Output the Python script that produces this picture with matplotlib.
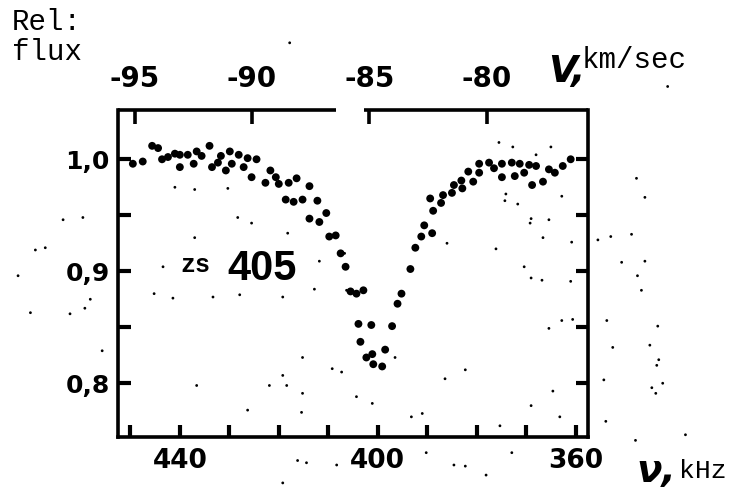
import matplotlib
matplotlib.use("Agg")
import matplotlib.pyplot as plt
import numpy as np

# line profile: frequency offset (kHz) and relative flux
freq = [449.5, 447.5, 445.6, 444.4, 443.6, 442.4, 441.0, 440.0, 440.0, 438.4,
        437.2, 436.6, 435.6, 434.0, 433.5, 432.3, 431.7, 430.7, 429.9, 429.5,
        428.1, 427.1, 426.3, 425.5, 424.5, 422.7, 421.7, 420.6, 420.0, 418.0,
        416.4, 413.8, 418.6, 417.0, 415.2, 412.2, 413.8, 411.8, 410.4, 409.8,
        408.5, 407.5, 406.5, 405.5, 404.3, 402.9, 403.9, 401.3, 403.5, 402.3,
        401.1, 400.9, 399.1, 398.5, 397.1, 396.0, 395.2, 393.4, 392.4, 391.2,
        390.6, 389.0, 388.8, 389.4, 387.2, 386.8, 385.0, 384.6, 383.1, 382.9,
        381.7, 380.7, 379.5, 379.5, 377.5, 376.5, 374.9, 374.9, 372.9, 372.3,
        371.3, 370.4, 369.4, 368.0, 368.8, 366.6, 365.4, 364.2, 362.6, 361.0]
flux = [0.996, 0.998, 1.012, 1.010, 1.000, 1.002, 1.005, 1.004, 0.993, 1.004,
        0.996, 1.007, 1.003, 1.012, 0.993, 0.997, 1.003, 0.990, 1.007, 0.996,
        1.004, 0.993, 1.001, 0.984, 1.000, 0.979, 0.990, 0.984, 0.978, 0.979,
        0.983, 0.976, 0.964, 0.962, 0.964, 0.963, 0.947, 0.944, 0.952, 0.931,
        0.932, 0.916, 0.904, 0.882, 0.880, 0.883, 0.853, 0.852, 0.837, 0.823,
        0.826, 0.817, 0.815, 0.830, 0.851, 0.871, 0.880, 0.902, 0.921, 0.931,
        0.941, 0.934, 0.954, 0.965, 0.961, 0.968, 0.970, 0.977, 0.981, 0.974,
        0.989, 0.980, 0.988, 0.996, 0.997, 0.992, 0.996, 0.984, 0.997, 0.985,
        0.996, 0.988, 0.995, 0.994, 0.977, 0.980, 0.991, 0.988, 0.994, 1.000]

# small specks scattered over the sheet
speck_f = [441.0, 437.0, 430.3, 428.3, 425.5, 437.0, 418.2, 443.4, 445.2, 441.4,
           433.3, 427.9, 419.2, 411.8, 406.7, 406.3, 412.8, 404.1, 403.7, 415.2,
           409.2, 407.3, 419.2, 421.9, 418.4, 415.2, 404.3, 426.3, 415.4, 436.6,
           401.1, 467.2, 469.2, 463.6, 459.6, 470.2, 462.2, 459.2, 458.1, 455.7,
           472.7, 416.2, 414.4, 408.3, 419.2, 386.0, 376.1, 370.4, 369.0, 366.8,
           360.8, 361.0, 362.8, 360.6, 365.4, 382.3, 386.4, 364.6, 369.0, 363.2,
           393.2, 391.0, 375.3, 396.5, 355.5, 352.9, 348.7, 350.7, 346.0, 347.5,
           346.7, 353.7, 343.4, 345.0, 352.5, 343.2, 343.6, 354.3, 344.6, 342.4,
           343.8, 353.9, 347.9, 337.8, 384.6, 382.3, 378.1, 372.9, 390.2, 341.4,
           347.7, 346.0, 417.8, 375.5, 372.7, 368.0, 365.0, 374.1, 374.3, 371.7,
           362.8, 369.0, 369.2, 365.4, 366.6]
speck_v = [0.975, 0.973, 0.974, 0.948, 0.943, 0.930, 0.934, 0.904, 0.880, 0.876,
           0.877, 0.879, 0.877, 0.909, 0.916, 0.883, 0.884, 0.852, 0.838, 0.823,
           0.813, 0.810, 0.807, 0.798, 0.798, 0.791, 0.788, 0.776, 0.774, 0.798,
           0.782, 0.921, 0.919, 0.946, 0.948, 0.863, 0.862, 0.867, 0.875, 0.829,
           0.896, 0.731, 0.729, 0.727, 0.711, 0.925, 0.920, 0.904, 0.894, 0.892,
           0.926, 0.891, 0.856, 0.857, 0.849, 0.812, 0.804, 0.793, 0.780, 0.770,
           0.770, 0.773, 0.762, 0.823, 0.928, 0.931, 0.933, 0.908, 0.909, 0.896,
           0.883, 0.856, 0.851, 0.834, 0.832, 0.821, 0.816, 0.803, 0.796, 0.800,
           0.791, 0.766, 0.749, 0.754, 0.727, 0.726, 0.718, 0.738, 0.738, 1.065,
           0.983, 0.966, 1.104, 1.015, 1.011, 1.004, 1.011, 0.969, 0.963, 0.960,
           0.967, 0.947, 0.943, 0.946, 0.930]

freq_ticks = [440, 400, 360]
freq_labels = ["440", "400", "360"]
flux_ticks = [0.8, 0.9, 1.0]
flux_labels = ["0,8", "0,9", "1,0"]
vel_ticks = [-95, -90, -85, -80]
vel_labels = ["-95", "-90", "-85", "-80"]


def f2v(f):
    return -93.08 + 0.211 * (440.0 - np.asarray(f, dtype=float))


def v2f(v):
    return 440.0 - (np.asarray(v, dtype=float) + 93.08) / 0.211


fig = plt.figure(figsize=(7.42, 4.90), dpi=100)
ax = fig.add_axes([118 / 742, 1 - 437 / 490, 470 / 742, 327 / 490])
ax.set_xlim(452.5, 357.5)
ax.set_ylim(0.752, 1.044)

ax.scatter(freq, flux, s=32, color="black", edgecolors="none", zorder=3)
ax.scatter(speck_f, speck_v, s=4, color="black", edgecolors="none",
           clip_on=False, zorder=2)

for side in ["left", "right", "bottom"]:
    ax.spines[side].set_linewidth(2.6)
ax.spines["top"].set_visible(False)
# top frame drawn in two pieces, broken just before the -85 mark
ax.plot([0, 0.464], [1, 1], transform=ax.transAxes, color="black", lw=2.6,
        clip_on=False, solid_capstyle="butt")
ax.plot([0.523, 1], [1, 1], transform=ax.transAxes, color="black", lw=2.6,
        clip_on=False, solid_capstyle="butt")

ax.set_xticks(freq_ticks)
ax.set_xticklabels(freq_labels, fontsize=19, fontweight="bold")
ax.set_xticks(np.arange(450, 355, -10), minor=True)
ax.set_yticks(flux_ticks)
ax.set_yticklabels(flux_labels, fontsize=18, fontweight="bold")
ax.set_yticks([0.85, 0.95], minor=True)
ax.tick_params(axis="both", which="both", direction="in", width=3, length=9,
               right=True, pad=6)
ax.tick_params(axis="x", which="both", pad=8)

secax = ax.secondary_xaxis("top", functions=(f2v, v2f))
secax.set_xticks(vel_ticks)
secax.set_xticklabels(vel_labels, fontsize=20, fontweight="bold")
secax.tick_params(direction="in", width=2.6, length=10, pad=12)
secax.spines["top"].set_visible(False)

fig.text(12 / 742, 1 - 8 / 490, "Rel:\nflux", family="Liberation Mono",
         fontsize=21, va="top", ha="left", linespacing=1.1)
fig.text(548 / 742, 1 - 82 / 490, "V,", fontsize=27, fontweight="bold",
         style="italic", va="baseline", ha="left")
fig.text(582 / 742, 1 - 68 / 490, "km/sec", family="Liberation Mono",
         fontsize=21, va="baseline", ha="left")
fig.text(636 / 742, 1 - 482 / 490, "ν,", fontsize=27, fontweight="bold",
         style="italic", va="baseline", ha="left")
fig.text(679 / 742, 1 - 478 / 490, "kHz", family="Liberation Mono",
         fontsize=19, va="baseline", ha="left")

fig.text(180 / 742, 1 - 272 / 490, "zs", family="Liberation Mono",
         fontsize=18, fontweight="bold", va="baseline", ha="left")
fig.text(227 / 742, 1 - 280 / 490, "405", family="Liberation Sans",
         fontsize=30, fontweight="bold", va="baseline", ha="left")

fig.savefig("out.png", dpi=100, facecolor="white")
